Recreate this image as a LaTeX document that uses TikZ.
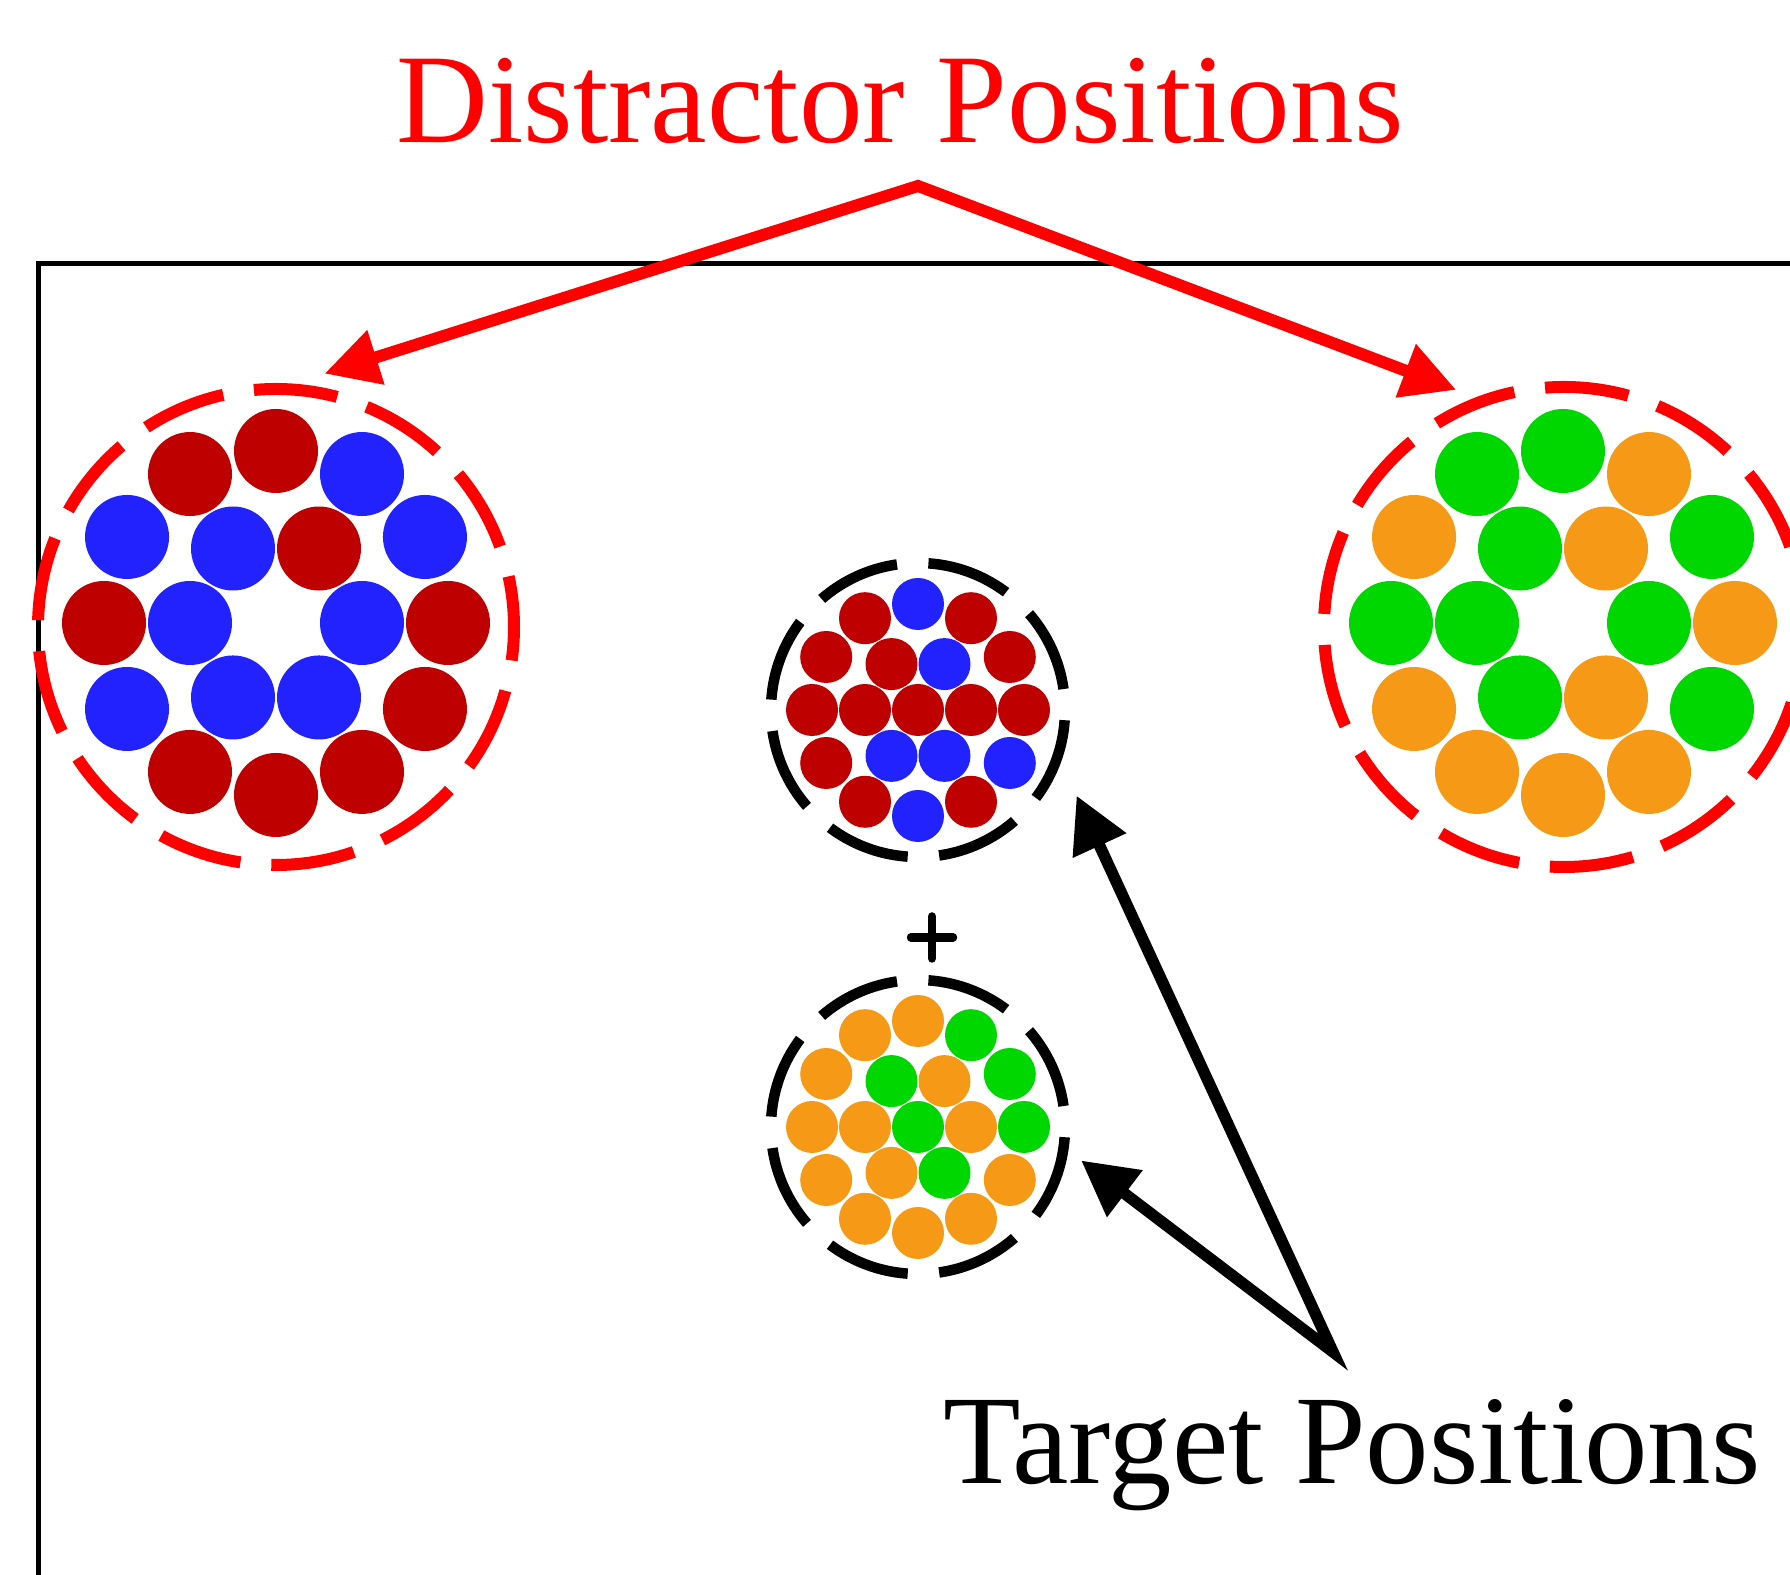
\documentclass[tikz,border=0pt]{standalone}
\usepackage{fontspec}
\setmainfont{Liberation Serif}
\usetikzlibrary{arrows.meta}

\definecolor{dotred}{RGB}{190,0,0}
\definecolor{dotblue}{RGB}{34,34,255}
\definecolor{dotgreen}{RGB}{0,214,0}
\definecolor{dotorange}{RGB}{246,153,22}

\tikzset{
    bigdot/.style = {circle, inner sep = 0pt, minimum size = 8.4mm},
    smalldot/.style = {circle, inner sep = 0pt, minimum size = 5.2mm},
    distring/.style = {circle, draw = red, line width = 1.2mm, inner sep = 0pt,
        dash pattern = on 8.4mm off 3.1mm, dash phase = 3.3mm},
    targring/.style = {circle, draw = black, line width = 1.05mm, inner sep = 0pt,
        minimum size = 29.4mm, dash pattern = on 8.4mm off 3.15mm, dash phase = 9.45mm},
    lbl/.style = {inner sep = 0pt, anchor = base}
}

\begin{document}
\begin{tikzpicture}[x = 0.1mm, y = 0.1mm]
            \useasboundingbox (0,0) rectangle (1790,1575);
            \clip (0,0) rectangle (1790,1575);

            %Screen
            \draw [line width = 0.5mm] (38.5,-20) |- (1850,1311.5);

            %Cluster centres
            \coordinate (lc) at (276,952);
            \coordinate (rc) at (1563,952);
            \coordinate (tc) at (918,865);
            \coordinate (bc) at (918,448);

            %Left distractor: red/blue
            \foreach \a/\c in {0/dotred, 30/dotblue, 60/dotblue, 90/dotred, 120/dotred, 150/dotblue,
                180/dotred, 210/dotblue, 240/dotred, 270/dotred, 300/dotred, 330/dotred}
                \node [bigdot, fill = \c] (lo\a) at ([shift={(\a:17.2mm)}]lc) {};
            \foreach \a/\c in {0/dotblue, 60/dotred, 120/dotblue, 180/dotblue, 240/dotblue, 300/dotblue}
                \node [bigdot, fill = \c] (li\a) at ([shift={(\a:8.6mm)}]lc) {};

            %Right distractor: green/orange
            \foreach \a/\c in {0/dotorange, 30/dotgreen, 60/dotorange, 90/dotgreen, 120/dotgreen, 150/dotorange,
                180/dotgreen, 210/dotorange, 240/dotorange, 270/dotorange, 300/dotorange, 330/dotgreen}
                \node [bigdot, fill = \c] (ro\a) at ([shift={(\a:17.2mm)}]rc) {};
            \foreach \a/\c in {0/dotgreen, 60/dotorange, 120/dotgreen, 180/dotgreen, 240/dotgreen, 300/dotorange}
                \node [bigdot, fill = \c] (ri\a) at ([shift={(\a:8.6mm)}]rc) {};

            %Upper target: red/blue
            \node [smalldot, fill = dotred]
            (t0)at(tc){};
            \foreach \a/\c in {0/dotred, 30/dotred, 60/dotred, 90/dotblue, 120/dotred, 150/dotred,
                180/dotred, 210/dotred, 240/dotred, 270/dotblue, 300/dotred, 330/dotblue}
                \node [smalldot, fill = \c] (to\a) at ([shift={(\a:10.6mm)}]tc) {};
            \foreach \a/\c in {0/dotred, 60/dotblue, 120/dotred, 180/dotred, 240/dotblue, 300/dotblue}
                \node [smalldot, fill = \c] (ti\a) at ([shift={(\a:5.3mm)}]tc) {};

            %Lower target: green/orange
            \node [smalldot, fill = dotgreen]
            (b0)at(bc){};
            \foreach \a/\c in {0/dotgreen, 30/dotgreen, 60/dotgreen, 90/dotorange, 120/dotorange, 150/dotorange,
                180/dotorange, 210/dotorange, 240/dotorange, 270/dotorange, 300/dotorange, 330/dotorange}
                \node [smalldot, fill = \c] (bo\a) at ([shift={(\a:10.6mm)}]bc) {};
            \foreach \a/\c in {0/dotorange, 60/dotorange, 120/dotgreen, 180/dotorange, 240/dotorange, 300/dotgreen}
                \node [smalldot, fill = \c] (bi\a) at ([shift={(\a:5.3mm)}]bc) {};

            %Dashed rings
            \node [distring, minimum size = 47.6mm]
            (distL)at(276,948){};
            \node [distring, minimum size = 48mm]
            (distR)at(1564,948){};
            \node [targring]
            (targA)at(918,865){};
            \node [targring]
            (targB)at(918,448){};

            %Fixation cross
            \coordinate (fix) at (932,637.5);
            \draw [line width = 0.85mm, line cap = round]
            ([xshift=-2.1mm]fix) -- ([xshift=2.1mm]fix) ([yshift=-2.1mm]fix) -- ([yshift=2.1mm]fix);

            %Labels
            \node [lbl, text = red, font = \fontsize{36.2}{40}\selectfont]
            (dtext)at(900,1432){Distractor Positions};
            \node [lbl, font = \fontsize{36.1}{40}\selectfont]
            (ttext)at(1352,91){Target Positions};

            \coordinate (dapex) at (918,1389);
            \coordinate (tapex) at (1333,223);

            \draw [red, line width = 1.2mm, {Triangle[length=5.4mm,width=5.4mm]}-{Triangle[length=5.4mm,width=5.4mm]},
                shorten <= 3.3mm, shorten >= 2.1mm]
            (distL.86) -- (dapex) -- (distR.111);
            \draw [line width = 1.15mm, {Triangle[length=5.5mm,width=5.6mm]}-{Triangle[length=5.5mm,width=5.6mm]},
                shorten <= 3.7mm, shorten >= 1.6mm]
            (targA.340) -- (tapex) -- (targB.351);

        \end{tikzpicture}
\end{document}
